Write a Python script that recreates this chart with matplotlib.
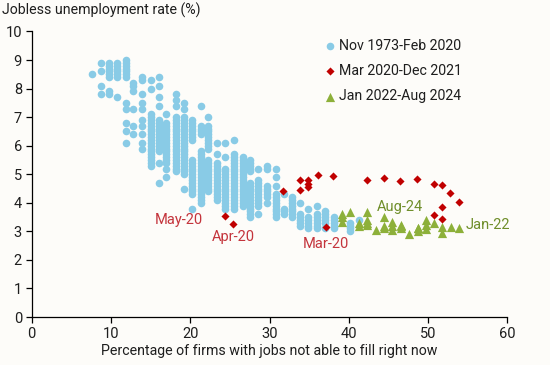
import matplotlib
matplotlib.use("Agg")
import matplotlib.pyplot as plt

plt.rcParams['font.family'] = ['Roboto', 'DejaVu Sans']

# ---- data: Nov 1973-Feb 2020 (columns of x with their y values) ----
blue_cols_x = [7.6, 8.7, 9.8, 10.7, 11.9, 12.8, 13.9, 15.0, 16.0, 17.0, 18.2, 19.2,
               20.2, 21.3, 22.3, 23.4, 24.4, 25.5, 26.6, 27.6, 28.6, 29.7, 30.8,
               31.8, 32.8, 33.9, 34.9, 36.0, 37.0, 38.1, 40.2, 41.3]
blue_cols_y = [
    [8.5],
    [8.9, 8.6, 8.1, 7.8],
    [8.9, 8.8, 8.7, 8.6, 8.5, 8.4, 7.9, 7.8],
    [8.9, 8.8, 8.7, 8.6, 8.5, 8.4, 7.7],
    [9.0, 8.9, 8.8, 8.7, 8.6, 8.5, 8.4, 7.5, 7.3, 6.8, 6.5, 6.1],
    [8.2, 8.1, 7.9, 7.3, 6.7, 6.4],
    [8.4, 8.3, 7.8, 7.5, 7.3, 6.9, 6.7, 6.4, 6.1, 5.9],
    [8.3, 8.0, 7.1, 7.0, 6.9, 6.8, 6.7, 6.6, 6.5, 6.4, 6.3, 6.2, 6.1, 6.0, 5.9,
     5.8, 5.7, 5.6, 5.5, 5.4, 5.3],
    [8.4, 8.1, 7.7, 7.4, 6.9, 6.8, 6.7, 6.6, 6.5, 6.4, 6.3, 6.2, 6.1, 6.0, 5.9,
     5.8, 5.4, 4.7],
    [7.1, 6.8, 6.7, 6.6, 6.5, 6.4, 6.3, 6.2, 6.1, 6.0, 5.9, 5.8, 5.7, 5.6, 5.5,
     5.4, 5.2, 4.9],
    [7.8, 7.6, 7.4, 7.0, 6.9, 6.8, 6.7, 6.6, 6.5, 6.4, 6.3, 6.2, 6.1, 6.0, 5.9,
     5.8, 5.7, 5.6, 5.5, 5.4, 5.3, 5.2, 5.1],
    [7.5, 7.3, 7.0, 6.9, 6.8, 6.7, 6.6, 6.5, 6.4, 6.3, 6.2, 6.1, 6.0, 5.9, 5.8,
     5.7, 5.6, 5.5, 5.4, 5.3, 5.2, 5.1, 5.0, 4.5],
    [6.9, 6.8, 6.7, 6.6, 6.5, 6.4, 6.3, 6.2, 5.5, 5.4, 5.3, 5.2, 5.1, 5.0, 4.9,
     4.8, 4.7, 4.6, 4.5, 4.4, 4.3, 3.8],
    [7.4, 6.7, 6.6, 6.5, 6.4, 5.8, 5.7, 5.6, 5.5, 5.4, 5.3, 5.2, 5.1, 5.0, 4.9,
     4.8, 4.7, 4.6, 4.5, 4.4, 4.3, 4.2, 4.1, 4.0],
    [7.0, 6.7, 6.6, 6.5, 6.4, 6.3, 6.2, 6.1, 6.0, 5.9, 5.5, 5.4, 5.3, 5.2, 5.1,
     5.0, 4.9, 4.8, 4.7, 4.6, 4.5, 4.4],
    [6.1, 5.7, 5.4, 5.3, 5.2, 5.1, 5.0, 4.9, 4.8, 4.7, 4.6, 4.5, 4.4, 4.3, 4.2, 4.1],
    [6.1, 5.6, 5.2, 5.1, 5.0, 4.9, 4.8, 4.7, 4.6, 4.5, 4.4, 4.3, 4.2, 4.1, 4.0,
     3.9, 3.8],
    [6.2, 5.7, 5.6, 5.5, 5.4, 5.3, 5.2, 5.1, 5.0, 4.9, 4.8, 4.7, 4.6, 4.5, 4.4,
     4.3, 4.2, 4.1, 4.0, 3.9, 3.8],
    [5.6, 5.5, 5.4, 5.3, 5.2, 5.1, 5.0, 4.9, 4.8, 4.7, 4.6, 4.5, 4.4, 4.3, 4.2,
     4.1, 4.0, 3.9],
    [5.5, 5.4, 5.3, 5.2, 5.1, 4.7, 4.6, 4.5, 4.4, 4.3, 4.2, 4.1, 4.0, 3.9, 3.8,
     3.7, 3.6, 3.5],
    [5.2, 4.8, 4.7, 4.6, 4.5, 4.4, 4.3, 4.2, 4.1, 4.0, 3.9, 3.6],
    [5.3, 5.2, 4.6, 4.5, 4.4, 4.3, 4.2, 4.0],
    [5.2, 4.9, 4.6, 4.3, 4.2, 4.1, 4.0, 3.9, 3.8, 3.7, 3.6, 3.5],
    [4.3, 3.8, 3.7, 3.6],
    [4.2, 4.1, 4.0, 3.9, 3.8, 3.7, 3.6, 3.5],
    [4.0, 3.6, 3.5, 3.4, 3.3, 3.2],
    [3.8, 3.5, 3.4, 3.3, 3.2, 3.1],
    [3.9, 3.6, 3.5, 3.4, 3.3, 3.2, 3.1],
    [3.7, 3.6, 3.5, 3.4, 3.3, 3.1],
    [3.5, 3.4, 3.3, 3.2, 3.1],
    [3.3, 3.2, 3.1, 3.0],
    [3.4],
]

# ---- data: Mar 2020-Dec 2021 ----
red_x = [37.1, 25.4, 24.4, 31.7, 33.9, 33.9, 34.9, 34.9, 34.9, 36.1, 38.0,
         42.3, 44.5, 46.5, 48.6, 50.7, 51.8, 52.8, 53.9, 51.8, 50.7, 51.8]
red_y = [3.14, 3.25, 3.53, 4.41, 4.79, 4.44, 4.79, 4.67, 4.55, 4.97, 4.94,
         4.79, 4.86, 4.75, 4.82, 4.66, 4.62, 4.33, 4.03, 3.84, 3.56, 3.42]

# ---- data: Jan 2022-Aug 2024 ----
green_x = [53.9, 52.9, 51.8, 51.8, 50.8, 49.7, 49.7, 49.7, 48.7, 48.7, 48.7,
           47.6, 46.6, 46.6, 46.6, 45.5, 45.5, 45.5, 44.5, 44.5, 43.4, 42.3,
           42.3, 42.3, 42.3, 41.3, 41.3, 40.2, 39.1, 39.1, 39.1, 44.5]
green_y = [3.11, 3.14, 3.14, 2.95, 3.28, 3.40, 3.22, 3.07, 3.11, 3.00, 3.10,
           2.91, 3.22, 3.11, 3.20, 3.34, 3.05, 3.20, 3.11, 3.20, 3.05, 3.69,
           3.40, 3.22, 3.30, 3.19, 3.30, 3.69, 3.61, 3.34, 3.50, 3.49]

series_labels = ["Nov 1973-Feb 2020", "Mar 2020-Dec 2021", "Jan 2022-Aug 2024"]

annot_text = ["May-20", "Apr-20", "Mar-20", "Aug-24", "Jan-22"]
annot_x = [18.6, 25.4, 37.1, 46.4, 57.6]
annot_y = [3.40, 2.79, 2.56, 3.84, 3.22]

x_ticks = [0, 10, 20, 30, 40, 50, 60]
y_ticks = [0, 1, 2, 3, 4, 5, 6, 7, 8, 9, 10]

# ---- styling ----
BG = '#FDFCF9'
BLUE = '#89CBE6'
RED = '#C00000'
GREEN = '#8DB03A'
RED_TXT = '#C4343C'
GREEN_TXT = '#6F8E2A'
TXT = '#1E1E1E'
FS = 10.2

blue_x, blue_y = [], []
for cx, ys in zip(blue_cols_x, blue_cols_y):
    for yv in ys:
        blue_x.append(cx)
        blue_y.append(yv)

fig = plt.figure(figsize=(5.5, 3.65), dpi=100, facecolor=BG)
ax = fig.add_axes([0.0576, 0.1315, 0.8648, 0.7822])
ax.set_facecolor(BG)

ax.scatter(blue_x, blue_y, s=30, color=BLUE, marker='o', linewidths=0,
           label=series_labels[0], zorder=2)
ax.scatter(red_x, red_y, s=17, color=RED, marker='D', linewidths=0,
           label=series_labels[1], zorder=4)
ax.scatter(green_x, green_y, s=44, color=GREEN, marker='^', linewidths=0,
           label=series_labels[2], zorder=3)

for t, xv, yv in zip(annot_text, annot_x, annot_y):
    col = RED_TXT if t.endswith('20') else GREEN_TXT
    ax.text(xv, yv, t, color=col, fontsize=10.5, ha='center', va='center')

ax.set_xlim(0, 60)
ax.set_ylim(0, 10)
ax.set_xticks(x_ticks)
ax.set_yticks(y_ticks)
for s in ['top', 'right']:
    ax.spines[s].set_visible(False)
for s in ['left', 'bottom']:
    ax.spines[s].set_color('#000000')
    ax.spines[s].set_linewidth(0.9)
ax.tick_params(axis='both', direction='out', length=4, width=0.9,
               colors='#000000', labelcolor=TXT, labelsize=10.5, pad=3)

ax.set_xlabel("Percentage of firms with jobs not able to fill right now",
              fontsize=FS, color=TXT, labelpad=2)
fig.text(0.004, 0.972, "Jobless unemployment rate (%)", fontsize=FS,
         color=TXT, ha='left', va='center')

leg = ax.legend(loc='upper left', bbox_to_anchor=(0.6125, 0.975), frameon=False,
                fontsize=FS, handlelength=1.0, handletextpad=0.15,
                borderpad=0, borderaxespad=0, labelspacing=0.8,
                scatterpoints=1)
for txt in leg.get_texts():
    txt.set_color(TXT)

fig.savefig('out.png', dpi=100, facecolor=BG)
